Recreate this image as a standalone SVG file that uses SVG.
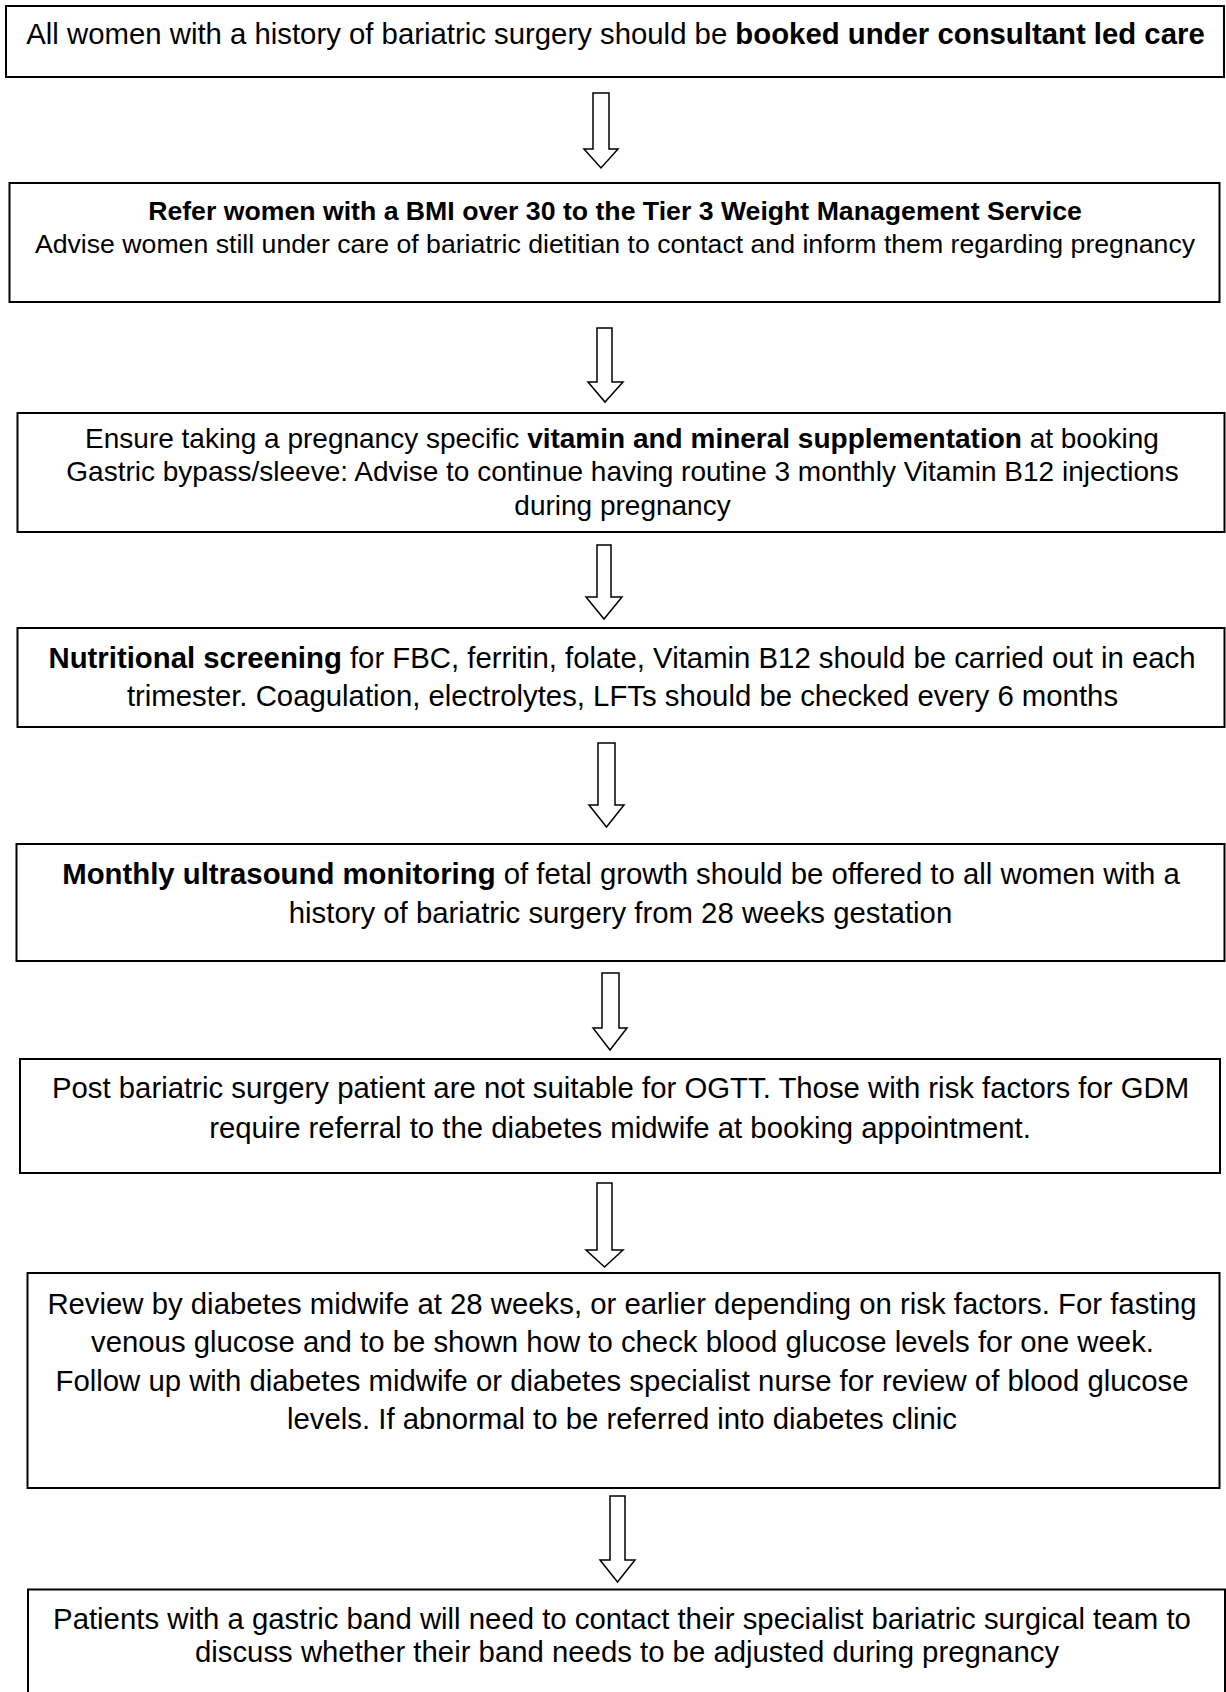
<svg xmlns="http://www.w3.org/2000/svg" width="1226" height="1692" viewBox="0 0 1226 1692">
<style>
.box{fill:#fff;stroke:#000;stroke-width:2}
.arr{fill:#fff;stroke:#000;stroke-width:1.5;stroke-linejoin:miter}
text{font-family:"Liberation Sans",Arial,sans-serif;fill:#000;text-anchor:middle}
.f22{font-size:29.33px}
.f21{font-size:28px}
.f20{font-size:26.67px}
.b{font-weight:bold}
</style>
<rect width="1226" height="1692" fill="#fff"/>
<g id="connectors">
<polygon class="arr" points="593,93 609,93 609,149 618,149 601,168 584,149 593,149"/>
<polygon class="arr" points="597,328 612,328 612,382 623,382 605,402 588,382 597,382"/>
<polygon class="arr" points="597,545 611,545 611,597 622,597 604,619 586,597 597,597"/>
<polygon class="arr" points="598,743 615,743 615,805 624,805 606.5,827 589,805 598,805"/>
<polygon class="arr" points="602,973 619,973 619,1028 627,1028 610,1050 593,1028 602,1028"/>
<polygon class="arr" points="597,1183 612,1183 612,1250 623,1250 604.5,1267 586,1250 597,1250"/>
<polygon class="arr" points="610,1496 625,1496 625,1560 635,1560 617.5,1582 600,1560 610,1560"/>
</g>
<g id="node1">
<rect class="box" x="6" y="6" width="1218" height="71"/>
<text class="f22" x="615.5" y="44">All women with a history of bariatric surgery should be <tspan class="b">booked under consultant led care</tspan></text>
</g>
<g id="node2">
<rect class="box" x="9.5" y="183" width="1210" height="119"/>
<text class="f20 b" x="615" y="219.5">Refer women with a BMI over 30 to the Tier 3 Weight Management Service</text>
<text class="f20" x="615" y="253">Advise women still under care of bariatric dietitian to contact and inform them regarding pregnancy</text>
</g>
<g id="node3">
<rect class="box" x="17.5" y="413" width="1207" height="119"/>
<text class="f21" x="622" y="448">Ensure taking a pregnancy specific <tspan class="b">vitamin and mineral supplementation</tspan> at booking</text>
<text class="f21" x="622.5" y="481">Gastric bypass/sleeve: Advise to continue having routine 3 monthly Vitamin B12 injections</text>
<text class="f21" x="622.5" y="515">during pregnancy</text>
</g>
<g id="node4">
<rect class="box" x="17.5" y="628" width="1207" height="99"/>
<text class="f22" x="622" y="667.5"><tspan class="b">Nutritional screening</tspan> for FBC, ferritin, folate, Vitamin B12 should be carried out in each</text>
<text class="f22" x="622.5" y="705.5">trimester. Coagulation, electrolytes, LFTs should be checked every 6 months</text>
</g>
<g id="node5">
<rect class="box" x="16.5" y="844" width="1208" height="117"/>
<text class="f22" x="621" y="884"><tspan class="b">Monthly ultrasound monitoring</tspan> of fetal growth should be offered to all women with a</text>
<text class="f22" x="620.5" y="923">history of bariatric surgery from 28 weeks gestation</text>
</g>
<g id="node6">
<rect class="box" x="20" y="1059" width="1200" height="114"/>
<text class="f22" x="620.5" y="1098">Post bariatric surgery patient are not suitable for OGTT. Those with risk factors for GDM</text>
<text class="f22" x="620" y="1137.5">require referral to the diabetes midwife at booking appointment.</text>
</g>
<g id="node7">
<rect class="box" x="27.5" y="1273" width="1192" height="215"/>
<text class="f22" x="622" y="1313.5">Review by diabetes midwife at 28 weeks, or earlier depending on risk factors. For fasting</text>
<text class="f22" x="622.5" y="1352">venous glucose and to be shown how to check blood glucose levels for one week.</text>
<text class="f22" x="622" y="1390.5">Follow up with diabetes midwife or diabetes specialist nurse for review of blood glucose</text>
<text class="f22" x="622" y="1429">levels. If abnormal to be referred into diabetes clinic</text>
</g>
<g id="node8">
<rect class="box" x="28" y="1589.5" width="1197" height="120"/>
<text class="f22" x="622" y="1628.5">Patients with a gastric band will need to contact their specialist bariatric surgical team to</text>
<text class="f22" x="627" y="1662">discuss whether their band needs to be adjusted during pregnancy</text>
</g>
</svg>
